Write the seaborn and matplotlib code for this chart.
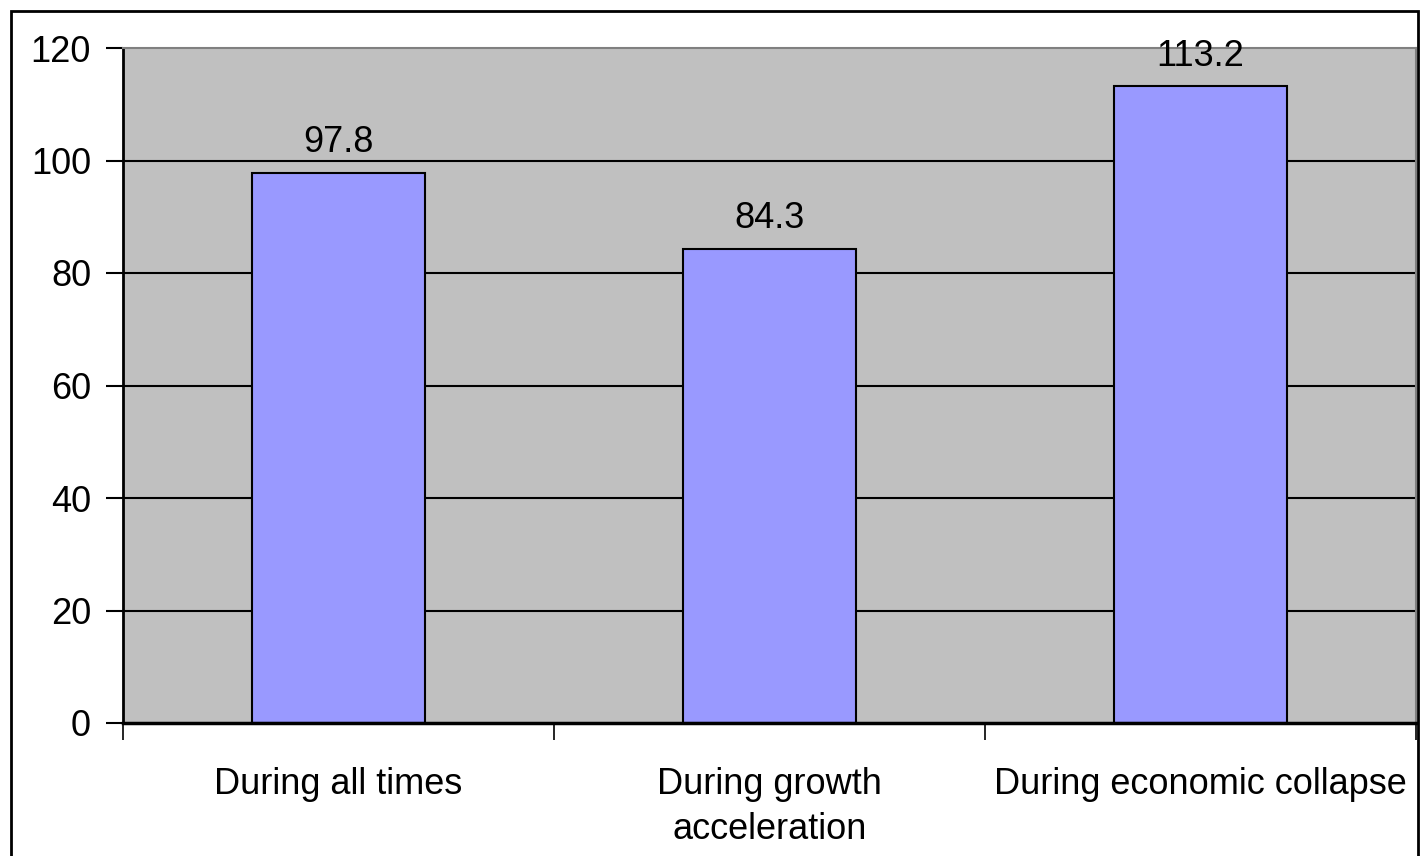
import matplotlib
matplotlib.use("Agg")
import matplotlib.pyplot as plt
from matplotlib.patches import Rectangle
import seaborn as sns
import pandas as pd

categories = ["During all times", "During growth\nacceleration", "During economic collapse"]
values = [97.8, 84.3, 113.2]
yticks = [0, 20, 40, 60, 80, 100, 120]

sns.set_style("white")
plt.rcParams["font.family"] = ["Liberation Sans", "DejaVu Sans"]
plt.rcParams["text.color"] = "black"
plt.rcParams["xtick.labelcolor"] = "black"
plt.rcParams["ytick.labelcolor"] = "black"

FS = 26
W, H, DPI = 1423, 856, 100
fig = plt.figure(figsize=(W / DPI, H / DPI), dpi=DPI)
ax = fig.add_axes([123 / W, 1 - 723 / H, (1416 - 123) / W, (723 - 48) / H])

df = pd.DataFrame({"category": categories, "value": values})
sns.barplot(data=df, x="category", y="value", color="#9999FF", saturation=1,
            edgecolor="black", linewidth=1.5, width=0.4, ax=ax, zorder=3)

ax.set_facecolor("#C0C0C0")
ax.set_xlim(-0.5, len(categories) - 0.5)
ax.set_ylim(yticks[0], yticks[-1])
ax.set_yticks(yticks)
ax.set_yticklabels([str(v) for v in yticks])
for y in yticks[1:-1]:
    ax.axhline(y, color="black", linewidth=1.5, zorder=1)

# category labels on major ticks, tick marks at category boundaries
ax.set_xticks(range(len(categories)))
ax.set_xticklabels(categories, fontsize=FS, linespacing=1.35, color="black")
ax.set_xticks([i - 0.5 for i in range(len(categories) + 1)], minor=True)
ax.tick_params(axis="x", which="major", length=0, pad=32)
ax.tick_params(axis="x", which="minor", length=12, width=1.2, direction="out",
               bottom=True, color="black")
ax.tick_params(axis="y", length=12, width=1.5, direction="out", left=True,
               color="black", labelsize=FS, labelcolor="black", pad=11)
ax.set_xlabel("")
ax.set_ylabel("")

for side in ["top", "right"]:
    ax.spines[side].set_color("#808080")
    ax.spines[side].set_linewidth(1.5)
ax.spines["left"].set_color("black")
ax.spines["left"].set_linewidth(2)
ax.spines["bottom"].set_color("black")
ax.spines["bottom"].set_linewidth(2.5)
for s in ax.spines.values():
    s.set_zorder(4)

for i, v in enumerate(values):
    ax.annotate(f"{v}", xy=(i, v), xytext=(0, 9), textcoords="offset points",
                ha="center", va="bottom", fontsize=FS, color="black",
                annotation_clip=False, zorder=5)

# chart border
fig.patches.append(Rectangle((10.5 / W, -0.05), (1417.5 - 10.5) / W,
                             1 - 11 / H + 0.05, transform=fig.transFigure,
                             fill=False, edgecolor="black", linewidth=2,
                             clip_on=False))

fig.savefig("out.png", dpi=DPI, facecolor="white")
